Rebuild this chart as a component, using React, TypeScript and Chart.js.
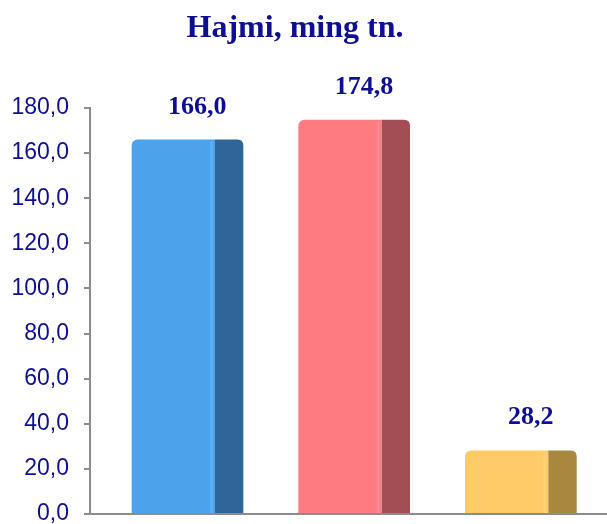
import { useEffect, useRef } from 'react';
import { Chart, registerables } from 'chart.js';

Chart.register(...registerables);

const titleText = 'Hajmi, ming tn.';
const categories = ['1', '2', '3'];
const values = [166.0, 174.8, 28.2];
const frontColors = ['#4DA2EC', '#FF7B82', '#FFCB66'];
const sideColors = ['#2F6699', '#A34E54', '#A8873F'];
const yMin = 0;
const yMax = 180;
const yStep = 20;

const navy = '#0E0E94';
const axisGray = '#8C8C8C';

const fmt = (v: number) => v.toFixed(1).replace('.', ',');

const bar3d = {
  id: 'bar3d',
  afterDatasetsDraw(chart: any) {
    const ctx = chart.ctx as CanvasRenderingContext2D;
    const meta = chart.getDatasetMeta(0);
    meta.data.forEach((el: any, i: number) => {
      const { x, y, width, base } = el.getProps(['x', 'y', 'width', 'base'], true);
      const right = x + width / 2;
      const depth = width * 0.34;
      const r = 6;
      ctx.save();
      ctx.fillStyle = sideColors[i];
      ctx.beginPath();
      ctx.moveTo(right, base);
      ctx.lineTo(right, y);
      ctx.lineTo(right + depth - r, y);
      ctx.quadraticCurveTo(right + depth, y, right + depth, y + r);
      ctx.lineTo(right + depth, base);
      ctx.closePath();
      ctx.fill();
      ctx.fillStyle = 'rgba(255,255,255,0.12)';
      ctx.fillRect(right - 5, y + 2, 3, base - y - 2);
      ctx.fillStyle = navy;
      ctx.font = 'bold 26px "Liberation Serif", "Times New Roman", serif';
      ctx.textAlign = 'center';
      ctx.textBaseline = 'alphabetic';
      ctx.fillText(fmt(values[i]), x + 24, y - 26);
      ctx.restore();
    });
  },
  afterDraw(chart: any) {
    const ctx = chart.ctx as CanvasRenderingContext2D;
    const a = chart.chartArea;
    ctx.save();
    ctx.strokeStyle = axisGray;
    ctx.lineWidth = 2;
    ctx.beginPath();
    ctx.moveTo(a.right, a.bottom);
    ctx.lineTo(chart.width, a.bottom);
    ctx.stroke();
    ctx.restore();
  },
};

export default function App() {
  const ref = useRef<HTMLCanvasElement>(null);
  useEffect(() => {
    if (!ref.current) return;
    const chart = new Chart(ref.current, {
      type: 'bar',
      data: {
        labels: categories,
        datasets: [
          {
            data: values,
            backgroundColor: frontColors,
            borderRadius: { topLeft: 6, topRight: 0, bottomLeft: 0, bottomRight: 0 },
            borderSkipped: false,
            categoryPercentage: 1,
            barPercentage: 0.5,
          },
        ],
      },
      options: {
        animation: false,
        responsive: true,
        maintainAspectRatio: false,
        layout: { padding: { left: 0, right: 17, top: 0, bottom: 0 } },
        plugins: {
          legend: { display: false },
          tooltip: { enabled: false },
          title: {
            display: true,
            text: titleText,
            color: navy,
            font: { family: '"Liberation Serif", "Times New Roman", serif', size: 32, weight: 'bold' },
            padding: { top: 10, bottom: 59.6 },
          },
        },
        scales: {
          x: {
            grid: { display: false },
            border: { display: true, color: axisGray, width: 2 },
            ticks: { display: false },
            afterFit: (s: any) => {
              s.height = 10;
            },
          },
          y: {
            min: yMin,
            max: yMax,
            grid: { drawOnChartArea: false, drawTicks: true, tickLength: 6, color: axisGray, lineWidth: 2 },
            border: { display: true, color: axisGray, width: 2 },
            ticks: {
              stepSize: yStep,
              padding: 15,
              color: navy,
              font: { family: '"Liberation Sans", Arial, sans-serif', size: 23 },
              callback: (v: any) => fmt(Number(v)),
            },
            afterFit: (s: any) => {
              s.width = 90;
              s.paddingTop = 0;
              s.paddingBottom = 0;
            },
          },
        },
      },
      plugins: [bar3d],
    });
    return () => chart.destroy();
  }, []);
  return (
    <div style={{ position: 'fixed', left: 0, top: 0, width: 607, height: 524, background: '#fff' }}>
      <canvas ref={ref} />
    </div>
  );
}
